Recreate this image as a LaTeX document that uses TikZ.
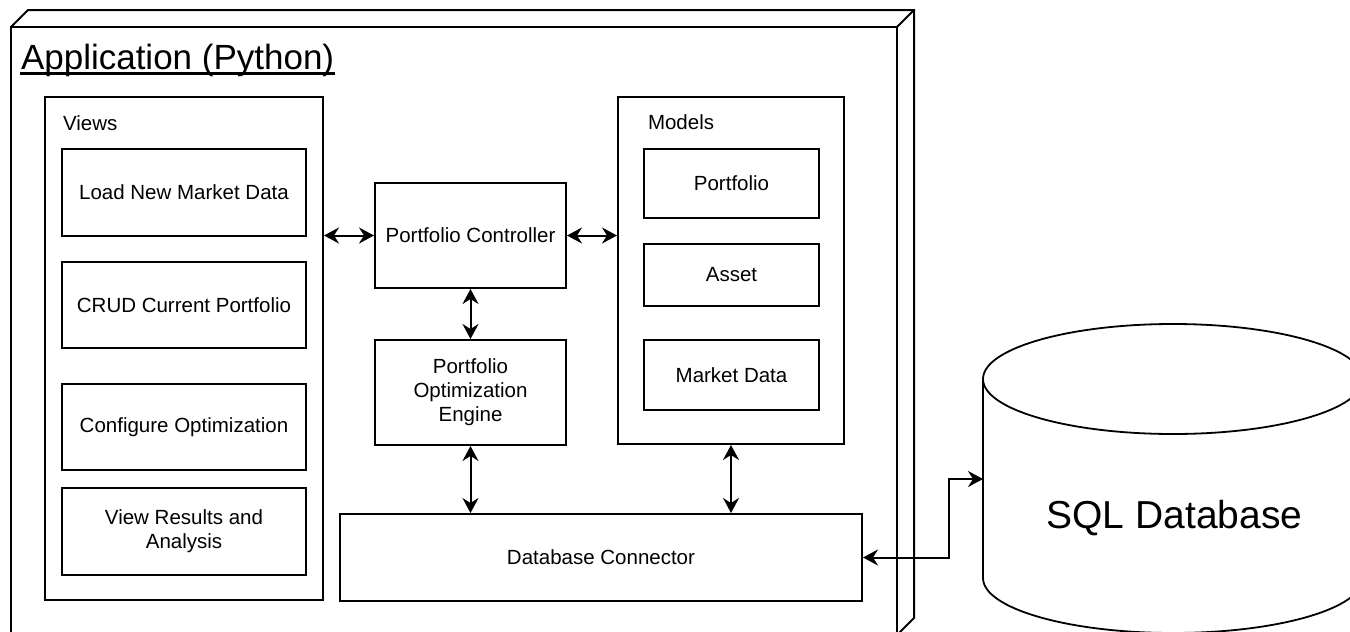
\documentclass[tikz,border=0pt]{standalone}
\usepackage{fontspec}
\setmainfont{Liberation Sans}
\usetikzlibrary{arrows.meta}
\begin{document}
\begin{tikzpicture}[x=1pt,y=-1pt,line width=2pt,line join=miter,
  txt/.style={font=\fontsize{20.5}{24}\selectfont},
  box/.style={draw,rectangle,inner sep=0pt,align=center,txt},
  lbl/.style={inner sep=0pt,anchor=west,txt},
  conn/.style={draw,line width=2pt,
    {Stealth[length=15pt,width=16pt,inset=5pt]}-{Stealth[length=15pt,width=16pt,inset=5pt]}}]
\useasboundingbox (0,0) rectangle (1350,632);
\clip (0,0) rectangle (1350,632);
% application frame (3D box)
\draw (11,27) rectangle (897,635);
\draw (11,27) -- (28,10) -- (914,10) -- (914,618) -- (897,635);
\draw (897,27) -- (914,10);
\node[inner sep=0pt,anchor=base west,font=\fontsize{35}{40}\selectfont] (title) at (20,69) {Application (Python)};
\draw[line width=2.2pt] ([yshift=-4.5pt]title.base west) -- ([yshift=-4.5pt]title.base east);
% views
\node[box,minimum width=278pt,minimum height=503pt] (views) at (184,348.5) {};
\node[lbl] (viewslbl) at (62,123) {Views};
\node[box,minimum width=244pt,minimum height=87pt] (load) at (184,192.5) {Load New Market Data};
\node[box,minimum width=244pt,minimum height=86pt] (crud) at (184,305) {CRUD Current Portfolio};
\node[box,minimum width=244pt,minimum height=86pt] (config) at (184,427) {Configure Optimization};
\node[box,minimum width=244pt,minimum height=87pt] (results) at (184,531.5) {View Results and\\Analysis};
% controller / engine
\node[box,minimum width=191pt,minimum height=105pt] (ctrl) at (470.5,235.5) {Portfolio Controller};
\node[box,minimum width=191pt,minimum height=105pt] (engine) at (470.5,392.5) {Portfolio\\Optimization\\Engine};
% models
\node[box,minimum width=226pt,minimum height=347pt] (models) at (731,270.5) {};
\node[lbl] (modelslbl) at (647,122) {Models};
\node[box,minimum width=175pt,minimum height=69pt] (portfolio) at (731.5,183.5) {Portfolio};
\node[box,minimum width=175pt,minimum height=62pt] (asset) at (731.5,275) {Asset};
\node[box,minimum width=175pt,minimum height=70pt] (market) at (731.5,375) {Market Data};
% database connector
\node[box,minimum width=522pt,minimum height=87pt] (dbc) at (601,557.5) {Database Connector};
% SQL database cylinder
\draw[line width=1.8pt] (983,379) -- (983,578) arc[start angle=180,end angle=0,x radius=190,y radius=55] -- (1363,379);
\draw[line width=1.8pt] (1173,379) ellipse [x radius=190,y radius=55];
\node[inner sep=0pt,anchor=base,font=\fontsize{39}{44}\selectfont] (sql) at (1174.5,528) {SQL Database};
\coordinate (sqlin) at (983,479);
% connectors
\path[conn] (ctrl.west -| views.east) -- (ctrl.west);
\path[conn] (ctrl.east) -- (ctrl.east -| models.west);
\path[conn] (ctrl.south) -- (engine.north);
\path[conn] (engine.south) -- (engine.south |- dbc.north);
\path[conn] (models.south) -- (models.south |- dbc.north);
\path[conn] (dbc.east) -- ++(86,0) |- (sqlin);
\end{tikzpicture}
\end{document}
